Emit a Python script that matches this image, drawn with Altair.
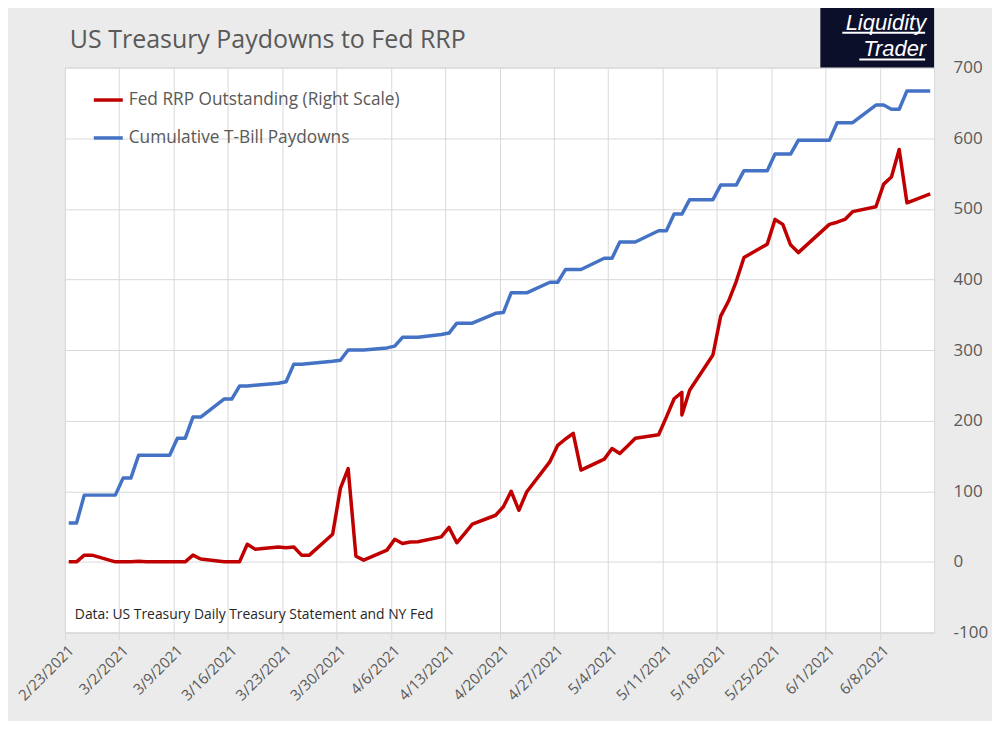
import altair as alt
import pandas as pd

# ---------------- data ----------------
dates = [
    "2021-02-23", "2021-02-24", "2021-02-25", "2021-02-26",
    "2021-03-01", "2021-03-02", "2021-03-03", "2021-03-04", "2021-03-05",
    "2021-03-08", "2021-03-09", "2021-03-10", "2021-03-11", "2021-03-12",
    "2021-03-15", "2021-03-16", "2021-03-17", "2021-03-18", "2021-03-19",
    "2021-03-22", "2021-03-23", "2021-03-24", "2021-03-25", "2021-03-26",
    "2021-03-29", "2021-03-30", "2021-03-31", "2021-04-01", "2021-04-02",
    "2021-04-05", "2021-04-06", "2021-04-07", "2021-04-08", "2021-04-09",
    "2021-04-12", "2021-04-13", "2021-04-14", "2021-04-15", "2021-04-16",
    "2021-04-19", "2021-04-20", "2021-04-21", "2021-04-22", "2021-04-23",
    "2021-04-26", "2021-04-27", "2021-04-28", "2021-04-29", "2021-04-30",
    "2021-05-03", "2021-05-04", "2021-05-05", "2021-05-06", "2021-05-07",
    "2021-05-10", "2021-05-11", "2021-05-12", "2021-05-13", "2021-05-13",
    "2021-05-14", "2021-05-17", "2021-05-18", "2021-05-19", "2021-05-20",
    "2021-05-21", "2021-05-24", "2021-05-25", "2021-05-26", "2021-05-27",
    "2021-05-28", "2021-06-01", "2021-06-02", "2021-06-03", "2021-06-04",
    "2021-06-07", "2021-06-08", "2021-06-09", "2021-06-10", "2021-06-11",
    "2021-06-14",
]

rrp_outstanding = [
    0, 0, 9.5, 9.5,
    0, 0, 0, 1, 0,
    0, 0, 0, 9.5, 4,
    0, 0, 0, 25, 18,
    21, 20, 21, 9.5, 9.5,
    39, 104, 132, 8, 2.4,
    16.6, 32, 26, 28, 28.5,
    35.4, 48.7, 27, 40, 53.4,
    66, 78, 100, 73, 99,
    142, 165, 174, 182, 130,
    145.5, 160.6, 153.5, 164, 175,
    180, 205, 231, 240, 208,
    243, 293, 348, 369, 397,
    431, 450, 485, 478, 449,
    438, 478, 481, 485, 496,
    503, 535, 545, 584, 508.5,
    521,
]

tbill_paydowns = [
    55, 55, 94.5, 94.5,
    94.5, 118.6, 118.6, 151, 151,
    151, 175, 175, 205, 205,
    230.5, 230.5, 249, 249, 250,
    253, 255, 280, 280, 281,
    284, 285.5, 300, 300, 300,
    303, 305.5, 318, 318, 318,
    322, 324, 338, 338, 338,
    352, 353, 381, 381, 381,
    396, 396, 414, 414, 414,
    430, 430, 453, 453, 453,
    469, 469, 492.5, 492.5, 492.5,
    513, 513, 533.6, 533.6, 533.6,
    554, 554, 577.5, 577.5, 577.5,
    597, 597, 622, 622, 622,
    647, 647, 641, 641, 667,
    667,
]

series_names = ["Fed RRP Outstanding (Right Scale)", "Cumulative T-Bill Paydowns"]
series_colors = ["#C00000", "#4472C4"]

x_tick_dates = [
    "2021-02-23", "2021-03-02", "2021-03-09", "2021-03-16", "2021-03-23",
    "2021-03-30", "2021-04-06", "2021-04-13", "2021-04-20", "2021-04-27",
    "2021-05-04", "2021-05-11", "2021-05-18", "2021-05-25", "2021-06-01",
    "2021-06-08",
]
x_domain_dates = ["2021-02-23", "2021-06-15"]
y_ticks = [-100, 0, 100, 200, 300, 400, 500, 600, 700]

title_text = "US Treasury Paydowns to Fed RRP"
source_text = "Data: US Treasury Daily Treasury Statement and NY Fed"
logo_lines = ["Liquidity", "Trader"]

# ---------------- build table ----------------
rows = []
for i, (d, r, b) in enumerate(zip(dates, rrp_outstanding, tbill_paydowns)):
    # Excel's date axis draws each day's point in the middle of the day
    t = (pd.Timestamp(d) + pd.Timedelta(hours=12)).strftime("%Y-%m-%dT%H:%M:%S")
    rows.append({"date": t, "value": r, "series": series_names[0], "idx": i})
    rows.append({"date": t, "value": b, "series": series_names[1], "idx": i})
df = pd.DataFrame(rows)


def dt(s):
    ts = pd.Timestamp(s)
    return alt.DateTime(year=ts.year, month=ts.month, date=ts.day)


FONT = "Open Sans"
GREY_TEXT = "#595959"
GRID = "#D9D9D9"

lines = alt.Chart(df).mark_line(strokeWidth=3.5, strokeJoin="round").encode(
    x=alt.X(
        "date:T",
        scale=alt.Scale(domain=[dt(s) for s in x_domain_dates]),
        axis=alt.Axis(
            values=[dt(s) for s in x_tick_dates],
            format="%-m/%-d/%Y",
            labelAngle=315,
            labelAlign="right",
            labelBaseline="middle",
            labelFontSize=15,
            labelColor=GREY_TEXT,
            labelFont=FONT,
            labelOffset=6,
            labelPadding=8,
            tickSize=7,
            tickColor=GRID,
            domainColor=GRID,
            gridColor=GRID,
            labelOverlap=False,
            title=None,
        ),
    ),
    y=alt.Y(
        "value:Q",
        scale=alt.Scale(domain=[-100, 700], nice=False, zero=False),
        axis=alt.Axis(
            orient="right",
            values=y_ticks,
            labelExpr="datum.value + ''",
            labelAlign="left",
            labelBaseline="middle",
            labelPadding=19,
            labelFontSize=17,
            labelColor=GREY_TEXT,
            labelFont=FONT,
            ticks=False,
            domain=False,
            gridColor=GRID,
            title=None,
        ),
    ),
    color=alt.Color(
        "series:N",
        scale=alt.Scale(domain=series_names, range=series_colors),
        legend=alt.Legend(
            orient="none",
            legendX=27,
            legendY=16,
            direction="vertical",
            title=None,
            symbolType="stroke",
            symbolStrokeWidth=3.5,
            symbolSize=841,
            labelFontSize=17.3,
            labelFont=FONT,
            labelColor=GREY_TEXT,
            labelOffset=4,
            labelLimit=0,
            rowPadding=13,
            padding=0,
        ),
    ),
    order=alt.Order("idx:Q"),
)

one = pd.DataFrame({"k": [0]})

title = alt.Chart(one).mark_text(
    text=title_text, font=FONT, fontSize=25, color=GREY_TEXT,
    align="left", baseline="alphabetic",
).encode(x=alt.value(5), y=alt.value(-20))

source = alt.Chart(one).mark_text(
    text=source_text, font=FONT, fontSize=13.9, color="#262626",
    align="left", baseline="middle",
).encode(x=alt.value(10), y=alt.value(549))

logo_box = alt.Chart(one).mark_rect(color="#0B0F2A").encode(
    x=alt.value(757), x2=alt.value(871), y=alt.value(-63), y2=alt.value(0)
)
logo_t1 = alt.Chart(one).mark_text(
    text=logo_lines[0], font="Liberation Sans", fontStyle="italic", fontSize=22,
    color="white", align="right", baseline="alphabetic",
).encode(x=alt.value(863), y=alt.value(-38))
logo_t2 = alt.Chart(one).mark_text(
    text=logo_lines[1], font="Liberation Sans", fontStyle="italic", fontSize=22,
    color="white", align="right", baseline="alphabetic",
).encode(x=alt.value(863), y=alt.value(-12))
logo_u1 = alt.Chart(one).mark_rule(color="white", strokeWidth=2).encode(
    x=alt.value(779), x2=alt.value(862), y=alt.value(-35)
)
logo_u2 = alt.Chart(one).mark_rule(color="white", strokeWidth=2).encode(
    x=alt.value(796), x2=alt.value(862), y=alt.value(-8)
)

chart = alt.layer(
    lines, title, source, logo_box, logo_t1, logo_t2, logo_u1, logo_u2
).properties(
    width=871,
    height=566,
    autosize=alt.AutoSizeParams(type="none"),
    padding={"left": 57, "top": 59, "right": 58, "bottom": 88},
    background="#EBEBEB",
).configure_view(
    fill="white", stroke=GRID
)

chart.save("out.html", embed_options={"renderer": "svg", "actions": False})
